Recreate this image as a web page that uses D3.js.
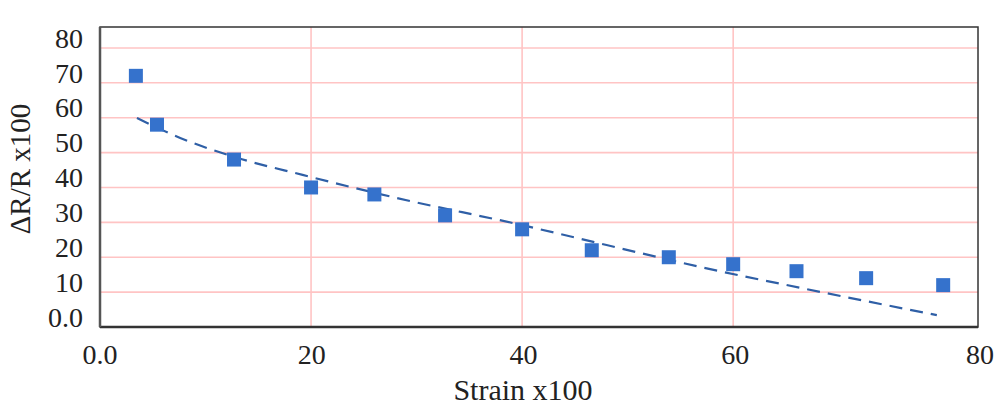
<!DOCTYPE html>
<html><head><meta charset="utf-8">
<script src="https://cdn.jsdelivr.net/npm/d3@7"></script>
<style>body{margin:0;background:#fff;} svg{display:block;} text{font-family:"Liberation Serif","Times New Roman",serif;fill:#222;}</style>
</head><body>
<svg id="chart" width="1000" height="408"></svg>
<script>
// data
const strain = [3.4, 5.4, 12.7, 20.0, 26.0, 32.7, 40.0, 46.6, 53.9, 60.0, 66.0, 72.6, 79.9];
const resistance = [72, 58, 48, 40, 38, 32, 28, 22, 20, 18, 16, 14, 12];
const trendX = [3.5, 7.6, 13.0, 19.2, 27.8, 40.0, 48.0, 56.9, 66.4, 79.3];
const trendY = [59.9, 54.2, 48.5, 43.6, 37.2, 29.2, 23.5, 17.2, 11.2, 3.4];
const xTicks = [0, 20, 40, 60, 80];
const xTickLabels = ["0.0", "20", "40", "60", "80"];
const yTicks = [0, 10, 20, 30, 40, 50, 60, 70, 80];
const yTickLabels = ["0.0", "10", "20", "30", "40", "50", "60", "70", "80"];
const xGrid = [20, 40, 60];
const yGrid = [10, 20, 30, 40, 50, 60, 70, 80];

const svg = d3.select("#chart");
const L = 100, R = 978, T = 27, B = 327;
const x = d3.scaleLinear().domain([0, 83.2]).range([L, R]);
const y = d3.scaleLinear().domain([0, 86]).range([B, T]);
// label placement scale (last label sits at the right frame edge in the reference)
const xLab = d3.scaleLinear().domain([0, 60, 80]).range([L, x(60) + 2, R + 2]);

// grid
svg.append("g").selectAll("line").data(yGrid).join("line")
  .attr("x1", L).attr("x2", R).attr("y1", d => y(d)).attr("y2", d => y(d))
  .attr("stroke", "#ffc4c4").attr("stroke-width", 1.6);
svg.append("g").selectAll("line").data(xGrid).join("line")
  .attr("y1", T).attr("y2", B).attr("x1", d => x(d)).attr("x2", d => x(d))
  .attr("stroke", "#ffc4c4").attr("stroke-width", 1.6);

// frame
svg.append("rect").attr("x", L).attr("y", T).attr("width", R - L).attr("height", B - T)
  .attr("fill", "none").attr("stroke", "#333").attr("stroke-width", 1.5);
svg.append("line").attr("x1", L).attr("x2", R).attr("y1", B).attr("y2", B).attr("stroke", "#333").attr("stroke-width", 2.5);
svg.append("line").attr("x1", L).attr("x2", L).attr("y1", T).attr("y2", B).attr("stroke", "#555").attr("stroke-width", 2.5);

// trend line
const line = d3.line().x(d => x(d[0])).y(d => y(d[1])).curve(d3.curveMonotoneX);
svg.append("path").datum(trendX.map((v, i) => [v, trendY[i]]))
  .attr("d", line).attr("fill", "none").attr("stroke", "#2f5fa6")
  .attr("stroke-width", 2.2).attr("stroke-dasharray", "13,8");

// markers
const s = 14;
svg.append("g").selectAll("rect").data(strain.map((v, i) => [v, resistance[i]])).join("rect")
  .attr("x", d => x(d[0]) - s / 2).attr("y", d => y(d[1]) - s / 2)
  .attr("width", s).attr("height", s).attr("fill", "#3572cc");

// tick labels
svg.append("g").selectAll("text").data(yTicks).join("text")
  .attr("x", 83).attr("y", d => y(d) - 10).attr("dy", "0.35em")
  .attr("text-anchor", "end").attr("font-size", 28)
  .text((d, i) => yTickLabels[i]);
svg.append("g").selectAll("text").data(xTicks).join("text")
  .attr("x", d => xLab(d)).attr("y", B + 27).attr("dy", "0.35em")
  .attr("text-anchor", "middle").attr("font-size", 28)
  .text((d, i) => xTickLabels[i]);

// axis titles
svg.append("text").attr("x", 523).attr("y", 389).attr("dy", "0.35em")
  .attr("text-anchor", "middle").attr("font-size", 30).text("Strain x100");
svg.append("text").attr("transform", "translate(20,169) rotate(-90)").attr("dy", "0.35em")
  .attr("text-anchor", "middle").attr("font-size", 29).text("ΔR/R x100");
</script>
</body></html>
